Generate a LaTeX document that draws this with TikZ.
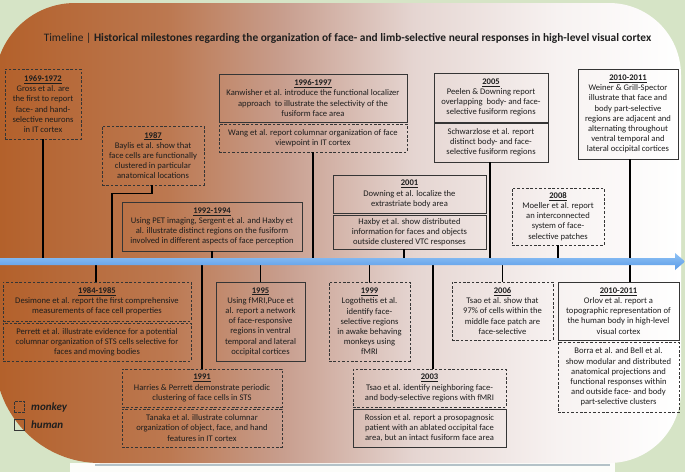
\documentclass[tikz,border=0pt]{standalone}
\usepackage{fontspec}
\setmainfont{Carlito}
\usetikzlibrary{calc}
\definecolor{bggreen}{HTML}{D6E4C6}
\definecolor{brA}{HTML}{B3602A}
\definecolor{brB}{HTML}{BC7850}
\definecolor{brC}{HTML}{C89E8E}
\definecolor{brD}{HTML}{E5D5D1}
\definecolor{brE}{HTML}{F7F2F1}
\definecolor{boxc}{HTML}{353535}
\definecolor{txtc}{HTML}{1E1E1E}
\definecolor{arrtop}{HTML}{8FC2F6}
\definecolor{arrbot}{HTML}{5B9BE6}
\definecolor{shadowc}{HTML}{B4C2C8}
\pgfdeclarehorizontalshading{bgshade}{100bp}{color(0bp)=(brA); color(25bp)=(brA); color(37.5bp)=(brB); color(46bp)=(brC); color(55.5bp)=(brD); color(66bp)=(brE); color(75bp)=(white); color(100bp)=(white)}
\newcommand\yr[1]{\textbf{\underline{#1}}}
\tikzset{
  txt/.style={font=\fontsize{8.6}{10.2}\selectfont, text=txtc, align=center, inner sep=0pt},
  sbox/.style={txt, draw=boxc, line width=0.9pt},
  dbox/.style={sbox, dash pattern=on 2.6pt off 1.8pt},
  conn/.style={line width=1.6pt, black},
  legtxt/.style={font=\fontsize{11}{12}\selectfont\bfseries\itshape, text=txtc, anchor=west, inner sep=0pt},
}
\begin{document}
\begin{tikzpicture}[x=1pt,y=-1pt]
\useasboundingbox (0,0) rectangle (685,472);
% background
\fill[bggreen] (0,0) rectangle (685,472);
\fill[white!92!bggreen] (70,463) rectangle (615,472);
\draw[shadowc, line width=1.2pt] (95,465) -- (610,465);
\path[shading=bgshade] (-5,83) .. controls (-5,38.8) and (30.8,3) .. (75,3)
  -- (609,3) .. controls (648.8,3) and (681,35.2) .. (681,75)
  -- (681,391) .. controls (681,430.8) and (648.8,463) .. (609,463)
  -- (100,463) .. controls (42,463) and (-5,416) .. (-5,358) -- cycle;
% title
\node[font=\fontsize{11.4}{13}\selectfont, text=txtc, inner sep=0pt] (title) at (347.5,38)
  {Timeline | \textbf{Historical milestones regarding the organization of face- and limb-selective neural responses in high-level visual cortex}};
% arrow axis coordinates
\coordinate (arrL) at (0,261.5);
\coordinate (arrR) at (685,261.5);
% upper boxes
\node[dbox, minimum width=76pt, minimum height=70pt] (g69) at (43,104)
  {\yr{1969-1972}\\Gross et al. are\\the first to report\\face- and hand-\\selective neurons\\in IT cortex};
\node[dbox, minimum width=102pt, minimum height=59pt] (b87) at (153,155.5)
  {\yr{1987}\\Baylis et al. show that\\face cells are functionally\\clustered in particular\\anatomical locations};
\node[sbox, minimum width=180pt, minimum height=49pt] (p92) at (212,226.5)
  {\yr{1992-1994}\\Using PET imaging, Sergent et al. and Haxby et\\al. illustrate distinct regions on the fusiform\\involved in different aspects of face perception};
\node[sbox, minimum width=188pt, minimum height=48pt] (k96) at (313,98)
  {\yr{1996-1997}\\Kanwisher et al. introduce the functional localizer\\approach\ \ to illustrate the selectivity of the\\fusiform face area};
\node[dbox, minimum width=188pt, minimum height=28pt] (w96) at (313,138)
  {Wang et al. report columnar organization of face\\viewpoint in IT cortex};
\node[sbox, minimum width=153pt, minimum height=38pt] (d01) at (409.5,194)
  {\yr{2001}\\Downing et al. localize the\\extrastriate body area};
\node[sbox, minimum width=153pt, minimum height=34pt] (h01) at (409.5,232)
  {Haxby et al. show distributed\\information for faces and objects\\outside clustered VTC responses};
\node[sbox, minimum width=114pt, minimum height=49pt] (p05) at (491,97.5)
  {\yr{2005}\\Peelen \& Downing report\\overlapping\ \ body- and face-\\selective fusiform regions};
\node[sbox, minimum width=114pt, minimum height=39pt] (s05) at (491,142.5)
  {Schwarzlose et al. report\\distinct body- and face-\\selective fusiform regions};
\node[dbox, minimum width=92pt, minimum height=57pt] (m08) at (558,216.5)
  {\yr{2008}\\Moeller et al. report\\an interconnected\\system of face-\\selective patches};
\node[sbox, minimum width=100pt, minimum height=90pt] (w10) at (628,114)
  {\yr{2010-2011}\\Weiner \& Grill-Spector\\illustrate that face and\\body part-selective\\regions are adjacent and\\alternating throughout\\ventral temporal and\\lateral occipital cortices};
% lower boxes
\node[dbox, minimum width=188pt, minimum height=39pt] (d84) at (97,301.5)
  {\yr{1984-1985}\\Desimone et al. report the first comprehensive\\measurements of face cell properties};
\node[dbox, minimum width=188pt, minimum height=38pt] (pe84) at (97,342)
  {Perrett et al. illustrate evidence for a potential\\columnar organization of STS cells selective for\\faces and moving bodies};
\node[dbox, minimum width=160pt, minimum height=38pt] (h91) at (202,388)
  {\yr{1991}\\Harries \& Perrett demonstrate periodic\\clustering of face cells in STS};
\node[dbox, minimum width=160pt, minimum height=38pt] (t91) at (202,428)
  {Tanaka et al. illustrate columnar\\organization of object, face, and hand\\features in IT cortex};
\node[sbox, minimum width=89pt, minimum height=79pt] (p95) at (260.5,321.5)
  {\yr{1995}\\Using fMRI,Puce et\\al. report a network\\of face-responsive\\regions in ventral\\temporal and lateral\\occipital cortices};
\node[dbox, minimum width=81pt, minimum height=79pt] (l99) at (369.5,321.5)
  {\yr{1999}\\Logothetis et al.\\identify face-\\selective regions\\in awake behaving\\monkeys using\\fMRI};
\node[dbox, minimum width=153pt, minimum height=38pt] (t03) at (429.5,388)
  {\yr{2003}\\Tsao et al. identify neighboring face-\\and body-selective regions with fMRI};
\node[sbox, minimum width=153pt, minimum height=38pt] (r03) at (429.5,428)
  {Rossion et al. report a prosopagnosic\\patient with an ablated occipital face\\area, but an intact fusiform face area};
\node[dbox, minimum width=101pt, minimum height=58pt] (t06) at (502.5,311)
  {\yr{2006}\\Tsao et al. show that\\97\% of cells within the\\middle face patch are\\face-selective};
\node[sbox, minimum width=121pt, minimum height=58pt] (o10) at (618.5,311)
  {\yr{2010-2011}\\Orlov et al. report a\\topographic representation of\\the human body in high-level\\visual cortex};
\node[dbox, minimum width=121pt, minimum height=70pt] (b10) at (618.5,377)
  {Borra et al. and Bell et al.\\show modular and distributed\\anatomical projections and\\functional responses within\\and outside face- and body\\part-selective clusters};
% connectors (upper)
\draw[conn] (g69.south) -- (g69.south |- arrL);
\draw[conn] ([xshift=-1pt]b87.south) -- ++(0,8) -| (112,261.5);
\draw[conn] (p92.south) -- (p92.south |- arrL);
\draw[conn] (w96.south) -- (w96.south |- arrL);
\draw[conn] ([xshift=-5.5pt]h01.south) -- ([xshift=-5.5pt]h01.south |- arrL);
\draw[conn] ([xshift=-1pt]s05.south) -- ([xshift=-1pt]s05.south |- arrL);
\draw[conn] (m08.south) -- (m08.south |- arrL);
\draw[conn] ([xshift=2pt]w10.south) -- ([xshift=2pt]w10.south |- arrL);
% connectors (lower)
\draw[conn] ([xshift=-1pt]d84.north) -- ([xshift=-1pt]d84.north |- arrL);
\draw[conn] (h91.north) -- (h91.north |- arrL);
\draw[conn] (p95.north) -- (p95.north |- arrL);
\draw[conn] (l99.north) -- (l99.north |- arrL);
\draw[conn] ([xshift=3.5pt]t03.north) -- ([xshift=3.5pt]t03.north |- arrL);
\draw[conn] (t06.north) -- (t06.north |- arrL);
\draw[conn] ([xshift=11.5pt]o10.north) -- ([xshift=11.5pt]o10.north |- arrL);
% timeline arrow
\path[top color=arrtop, bottom color=arrbot] (0,258) -- (675,258) -- (675,253) -- (685,261.5)
  -- (675,270) -- (675,265) -- (0,265) -- cycle;
% legend
\node[draw=boxc, line width=1.1pt, dash pattern=on 2.4pt off 1.6pt, minimum size=10.5pt, inner sep=0pt] (lgm) at (19.5,407) {};
\node[draw=boxc, line width=1.1pt, minimum size=10.5pt, inner sep=0pt] (lgh) at (19.5,425) {};
\node[legtxt] (lgmt) at (31,407) {monkey};
\node[legtxt] (lght) at (31,425) {human};
\end{tikzpicture}
\end{document}
